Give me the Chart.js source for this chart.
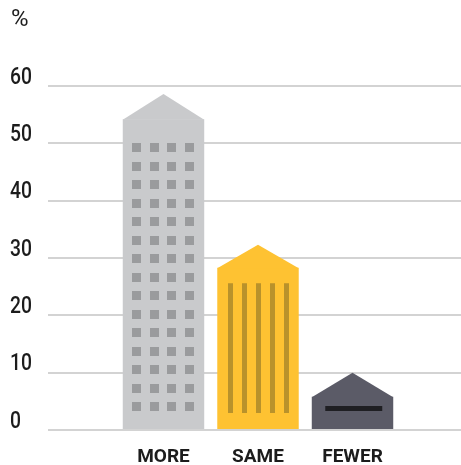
<!DOCTYPE html>
<html>
<head>
<meta charset="utf-8">
<script src="https://cdn.jsdelivr.net/npm/chart.js@4/dist/chart.umd.min.js"></script>
<style>
  html, body { margin: 0; padding: 0; background: #fff; }
  #wrap { width: 461px; height: 465px; }
</style>
</head>
<body>
<div id="wrap"><canvas id="chart"></canvas></div>
<script>
// building chart: body height = share, roof peak drawn on top
const categories = ['MORE', 'SAME', 'FEWER'];
const bodyValues = [54.2, 28.3, 5.8];
const roofValues = [58.6, 32.3, 10.0];
const yTicks = [0, 10, 20, 30, 40, 50, 60];

const bodyColors = ['#c9cacc', '#fec232', '#5b5b67'];
const FONT = "Roboto, 'Liberation Sans', sans-serif";

const buildingPlugin = {
  id: 'buildings',
  afterDatasetsDraw(chart) {
    const ctx = chart.ctx;
    const y = chart.scales.y;
    const meta = chart.getDatasetMeta(0);
    meta.data.forEach((bar, i) => {
      const half = bar.width / 2;
      const left = bar.x - half, right = bar.x + half;
      const eave = y.getPixelForValue(bodyValues[i]);
      const peak = y.getPixelForValue(roofValues[i]);
      const base = y.getPixelForValue(0);

      // roof
      ctx.save();
      ctx.fillStyle = bodyColors[i];
      ctx.beginPath();
      ctx.moveTo(left, eave + 0.5);
      ctx.lineTo(bar.x, peak);
      ctx.lineTo(right, eave + 0.5);
      ctx.closePath();
      ctx.fill();

      if (i === 0) {
        // windows 4 x 15
        ctx.fillStyle = '#9a9b9d';
        const top = eave + 24, last = base - 28;
        const step = (last - top) / 14;
        for (let r = 0; r < 15; r++) {
          for (let c = 0; c < 4; c++) {
            ctx.fillRect(Math.round(left + 9.5 + c * 17.6), Math.round(top + r * step), 9, 9);
          }
        }
      } else if (i === 1) {
        // vertical stripes
        ctx.fillStyle = '#b9922b';
        const top = eave + 15.5;
        for (let c = 0; c < 5; c++) {
          ctx.fillRect(Math.round(left + 10.5 + c * 14), top, 5, base - 17 - top);
        }
      } else {
        // door slot
        ctx.fillStyle = '#1f1f23';
        ctx.fillRect(left + 13.5, base - 24, bar.width - 24.5, 5);
      }
      ctx.restore();
    });

    // y tick labels, narrowed, set slightly above their grid lines
    ctx.save();
    ctx.fillStyle = '#1c1c1c';
    ctx.font = '500 23px ' + FONT;
    ctx.textAlign = 'left';
    ctx.textBaseline = 'middle';
    yTicks.forEach(v => {
      ctx.save();
      ctx.translate(10, y.getPixelForValue(v) - 8);
      ctx.scale(0.84, 1);
      ctx.fillText(String(v), 0, 0);
      ctx.restore();
    });
    ctx.restore();
  }
};

new Chart(document.getElementById('chart'), {
  type: 'bar',
  data: {
    datasets: [{
      data: categories.map((c, i) => ({ x: i + 1, y: bodyValues[i] })),
      backgroundColor: bodyColors,
      borderWidth: 0,
      barPercentage: 0.862,
      categoryPercentage: 1
    }]
  },
  options: {
    responsive: true,
    maintainAspectRatio: false,
    animation: false,
    layout: { padding: { left: 11, right: 0, top: 0, bottom: 0 } },
    plugins: {
      legend: { display: false },
      tooltip: { enabled: false },
      title: {
        display: true,
        text: '%',
        align: 'start',
        color: '#1c1c1c',
        font: { family: FONT, size: 24, weight: 'normal', lineHeight: 1.2 },
        padding: { top: 6, bottom: 51.2 }
      }
    },
    scales: {
      x: {
        type: 'linear',
        offset: false,
        min: -0.222,
        max: 4.148,
        grid: { display: false },
        border: { display: false },
        afterBuildTicks: axis => { axis.ticks = categories.map((c, i) => ({ value: i + 1 })); },
        afterFit: axis => { axis.height = 35; },
        ticks: {
          autoSkip: false,
          maxRotation: 0,
          padding: 8,
          color: '#1c1c1c',
          font: { family: FONT, size: 19, weight: 'bold' },
          callback: v => categories[v - 1]
        }
      },
      y: {
        min: 0,
        max: 60,
        afterBuildTicks: axis => { axis.ticks = yTicks.map(v => ({ value: v })); },
        afterFit: axis => { axis.width = 37; },
        grid: { color: '#d3d3d3', lineWidth: 2, drawTicks: false },
        border: { display: false },
        ticks: { display: false }
      }
    }
  },
  plugins: [buildingPlugin]
});
</script>
</body>
</html>
